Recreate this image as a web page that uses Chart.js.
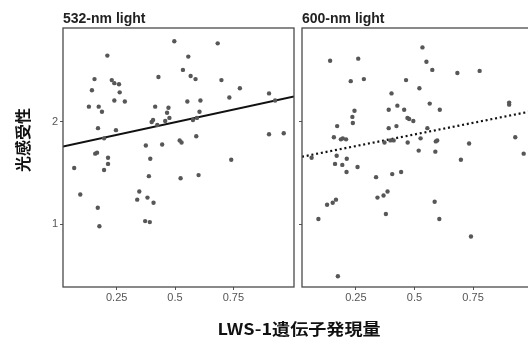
<!DOCTYPE html>
<html>
<head>
<meta charset="utf-8">
<script src="https://cdn.jsdelivr.net/npm/chart.js@4/dist/chart.umd.min.js"></script>
<style>
  html, body { margin: 0; padding: 0; background: #fff; }
  body { width: 528px; height: 337px; overflow: hidden; position: relative; }
  canvas { position: absolute; top: 0; }
  #left { left: 0; }
  #right { left: 290px; }
  .lbl { position: absolute; font-family: "Noto Sans CJK JP", sans-serif; font-weight: bold; color: #111; white-space: nowrap; }
  #ylab { left: 22px; top: 140px; font-size: 16px; transform: translate(-50%, -50%) rotate(-90deg); }
  #xlab { left: 299px; top: 328px; font-size: 16px; transform: translate(-50%, -50%) scaleX(1.13); }
</style>
</head>
<body>
<canvas id="left" width="300" height="337"></canvas>
<canvas id="right" width="250" height="337"></canvas>
<div id="ylab" class="lbl">光感受性</div>
<div id="xlab" class="lbl">LWS-1遺伝子発現量</div>
<script>
// 532-nm light panel
const x532 = [0.497, 0.683, 0.210, 0.557, 0.534, 0.429, 0.567, 0.588, 0.699, 0.155,
  0.229, 0.240, 0.260, 0.144, 0.263, 0.778, 0.903, 0.733, 0.240, 0.285,
  0.553, 0.609, 0.929, 0.131, 0.173, 0.187, 0.415, 0.472, 0.466, 0.476,
  0.605, 0.400, 0.406, 0.458, 0.577, 0.594, 0.424, 0.170, 0.247, 0.196,
  0.520, 0.528, 0.591, 0.903, 0.966, 0.375, 0.445, 0.158, 0.166, 0.068,
  0.213, 0.213, 0.196, 0.394, 0.741, 0.388, 0.524, 0.601, 0.094, 0.347,
  0.338, 0.382, 0.408, 0.169, 0.372, 0.392, 0.176];
const y532 = [2.79, 2.77, 2.65, 2.64, 2.51, 2.44, 2.45, 2.42, 2.41, 2.42,
  2.41, 2.38, 2.37, 2.31, 2.29, 2.33, 2.28, 2.24, 2.21, 2.20,
  2.20, 2.21, 2.21, 2.15, 2.15, 2.10, 2.15, 2.14, 2.09, 2.04,
  2.10, 2.00, 2.02, 2.01, 2.02, 2.04, 1.97, 1.94, 1.92, 1.84,
  1.82, 1.80, 1.86, 1.88, 1.89, 1.77, 1.78, 1.69, 1.70, 1.55,
  1.65, 1.59, 1.53, 1.64, 1.63, 1.47, 1.45, 1.48, 1.29, 1.32,
  1.24, 1.26, 1.21, 1.16, 1.03, 1.02, 0.98];

// 600-nm light panel
const x600 = [0.140, 0.260, 0.534, 0.551, 0.576, 0.683, 0.778, 0.228, 0.284, 0.464,
  0.521, 0.402, 0.244, 0.235, 0.237, 0.390, 0.427, 0.456, 0.470, 0.477,
  0.495, 0.565, 0.608, 0.904, 0.904, 0.170, 0.390, 0.423, 0.555, 0.156,
  0.186, 0.194, 0.208, 0.397, 0.411, 0.372, 0.471, 0.526, 0.597, 0.591,
  0.733, 0.930, 0.518, 0.589, 0.966, 0.061, 0.168, 0.211, 0.161, 0.192,
  0.257, 0.210, 0.698, 0.336, 0.405, 0.443, 0.342, 0.368, 0.385, 0.127,
  0.151, 0.165, 0.586, 0.090, 0.378, 0.606, 0.741, 0.173];
const y600 = [2.60, 2.62, 2.73, 2.59, 2.51, 2.48, 2.50, 2.40, 2.42, 2.41,
  2.33, 2.28, 2.11, 2.05, 1.99, 2.12, 2.16, 2.12, 2.04, 2.03,
  2.01, 2.18, 2.12, 2.19, 2.17, 1.96, 1.94, 1.96, 1.94, 1.85,
  1.83, 1.84, 1.83, 1.82, 1.82, 1.80, 1.80, 1.84, 1.82, 1.81,
  1.79, 1.85, 1.72, 1.71, 1.69, 1.65, 1.67, 1.64, 1.59, 1.58,
  1.56, 1.51, 1.63, 1.46, 1.49, 1.51, 1.26, 1.28, 1.32, 1.19,
  1.21, 1.24, 1.22, 1.05, 1.10, 1.05, 0.88, 0.49];

// fitted lines
const trendX = [0.02, 1.01];
const trend532 = [1.76, 2.25];
const trend600 = [1.66, 2.11];

const xTicks = [0.25, 0.5, 0.75];
const yTicks = [1, 2];

const pts = (xs, ys) => xs.map((x, i) => ({ x: x, y: ys[i] }));

const framePlugin = {
  id: "frame",
  afterDatasetsDraw(chart) {
    const a = chart.chartArea;
    const c = chart.ctx;
    c.save();
    c.strokeStyle = "#4a4a4a";
    c.lineWidth = 1.3;
    c.strokeRect(a.left, a.top, a.right - a.left, a.bottom - a.top);
    c.restore();
  }
};

const panelTitle = {
  id: "panelTitle",
  afterDraw(chart, args, opts) {
    const c = chart.ctx;
    c.save();
    c.font = "bold 14px 'Liberation Sans', Arial, sans-serif";
    c.fillStyle = "#222";
    c.textBaseline = "alphabetic";
    c.fillText(opts.text, chart.chartArea.left, chart.chartArea.top - 5.5);
    c.restore();
  }
};

function makePanel(id, xs, ys, trend, dash, yWidth, showYLabels, title) {
  return new Chart(document.getElementById(id), {
    type: "scatter",
    data: {
      datasets: [{
        data: pts(xs, ys),
        backgroundColor: "#575757",
        borderWidth: 0,
        pointRadius: 2.2
      }, {
        type: "line",
        data: pts(trendX, trend),
        borderColor: "#111",
        borderWidth: dash ? 2.2 : 2,
        borderDash: dash || [],
        pointRadius: 0,
        fill: false
      }]
    },
    options: {
      responsive: false,
      animation: false,
      layout: { padding: { top: 28, right: 6, bottom: 0, left: 0 } },
      plugins: {
        legend: { display: false },
        tooltip: { enabled: false },
        panelTitle: { text: title }
      },
      scales: {
        x: {
          type: "linear",
          min: 0.02,
          max: 1.01,
          afterBuildTicks: s => { s.ticks = xTicks.map(v => ({ value: v })); },
          afterFit: s => { s.height = 50; },
          grid: { drawOnChartArea: false, tickLength: 3, color: "#555" },
          border: { display: false },
          ticks: {
            padding: 1,
            color: "#555",
            font: { family: "'Liberation Sans', Arial, sans-serif", size: 11 },
            callback: v => String(v)
          }
        },
        y: {
          type: "linear",
          min: 0.385,
          max: 2.92,
          afterBuildTicks: s => { s.ticks = yTicks.map(v => ({ value: v })); },
          afterFit: s => { s.width = yWidth; },
          grid: { drawOnChartArea: false, tickLength: 3, color: "#555" },
          border: { display: false },
          ticks: {
            display: showYLabels,
            padding: 2,
            color: "#555",
            font: { family: "'Liberation Sans', Arial, sans-serif", size: 11 },
            callback: v => String(v)
          }
        }
      }
    },
    plugins: [framePlugin, panelTitle]
  });
}

makePanel("left", x532, y532, trend532, null, 63, true, "532-nm light");
makePanel("right", x600, y600, trend600, [2, 2.8], 12, false, "600-nm light");
</script>
</body>
</html>
